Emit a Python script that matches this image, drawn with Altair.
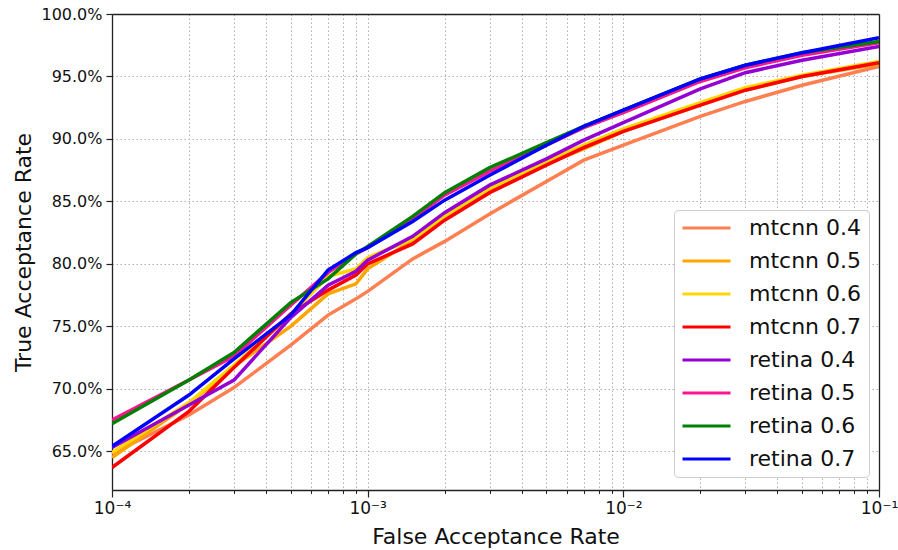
import altair as alt
import pandas as pd

far = [1e-4, 2e-4, 3e-4, 5e-4, 7e-4, 9e-4, 1e-3, 1.5e-3, 2e-3, 3e-3, 5e-3, 7e-3,
       1e-2, 2e-2, 3e-2, 5e-2, 1e-1]

series_names = ["mtcnn 0.4", "mtcnn 0.5", "mtcnn 0.6", "mtcnn 0.7",
                "retina 0.4", "retina 0.5", "retina 0.6", "retina 0.7"]
series_colors = ["#FF7F50", "#FFA500", "#FFD700", "#FF0000",
                 "#9400D3", "#FF1493", "#008000", "#0000FF"]

mtcnn_04 = [64.8, 67.9, 70.1, 73.5, 75.9, 77.2, 77.8, 80.4, 81.8, 84.0, 86.6, 88.3,
            89.5, 91.8, 93.0, 94.3, 95.8]
mtcnn_05 = [64.5, 68.8, 71.8, 75.0, 77.6, 78.4, 79.6, 81.9, 83.6, 85.9, 88.0, 89.2,
            90.6, 92.7, 93.9, 95.0, 96.0]
mtcnn_06 = [64.9, 68.9, 71.9, 75.9, 79.0, 79.6, 80.5, 82.0, 83.8, 86.0, 88.2, 89.5,
            90.8, 92.9, 94.1, 95.1, 96.2]
mtcnn_07 = [63.7, 68.2, 71.7, 76.0, 77.9, 79.1, 80.0, 81.6, 83.5, 85.7, 87.9, 89.3,
            90.6, 92.7, 93.9, 95.0, 96.1]
retina_04 = [65.3, 68.7, 70.7, 75.7, 78.3, 79.4, 80.3, 82.2, 84.1, 86.3, 88.4, 89.9,
             91.3, 94.0, 95.3, 96.3, 97.4]
retina_05 = [67.5, 70.7, 72.6, 76.7, 79.3, 80.8, 81.3, 83.6, 85.5, 87.4, 89.5, 90.9,
             92.1, 94.6, 95.7, 96.7, 97.7]
retina_06 = [67.2, 70.7, 72.9, 76.9, 78.8, 80.8, 81.4, 83.8, 85.7, 87.7, 89.7, 91.0,
             92.3, 94.8, 95.9, 96.9, 97.8]
retina_07 = [65.4, 69.5, 72.4, 75.9, 79.5, 80.9, 81.3, 83.4, 85.1, 87.1, 89.5, 91.0,
             92.3, 94.8, 95.9, 96.9, 98.1]

all_series = [mtcnn_04, mtcnn_05, mtcnn_06, mtcnn_07,
              retina_04, retina_05, retina_06, retina_07]

major_x = [1e-4, 1e-3, 1e-2, 1e-1]
minor_x = [m * 10.0 ** e for e in (-4, -3, -2) for m in range(2, 10)]
y_ticks = [65, 70, 75, 80, 85, 90, 95, 100]

rows = []
for name, vals in zip(series_names, all_series):
    for i, (x, y) in enumerate(zip(far, vals)):
        rows.append({"series": name, "far": x, "tar": y, "order": i})
df = pd.DataFrame(rows)

FONT = "DejaVu Sans"
DARK = "#222222"
GRID = dict(grid=True, gridColor="#b0b0b0", gridDash=[1.5, 2.5], gridWidth=1)

xscale = alt.Scale(type="log", domain=[1e-4, 1e-1], nice=False)
yscale = alt.Scale(domain=[61.9, 100], nice=False, zero=False)

label_expr = ("round(log(datum.value)/LN10) == -4 ? '10⁻⁴' : "
              "round(log(datum.value)/LN10) == -3 ? '10⁻³' : "
              "round(log(datum.value)/LN10) == -2 ? '10⁻²' : '10⁻¹'")

minor_layer = alt.Chart(df).mark_line(strokeOpacity=0).encode(
    x=alt.X("far:Q", scale=xscale,
            axis=alt.Axis(values=minor_x, labels=False, title=None, domain=False,
                          tickSize=3.5, tickColor=DARK, tickWidth=1,
                          orient="bottom", **GRID)),
    y=alt.Y("tar:Q", scale=yscale, axis=None),
    detail="series:N",
)

lines = alt.Chart(df).mark_line(strokeWidth=3.5, clip=True).encode(
    x=alt.X("far:Q", scale=xscale,
            axis=alt.Axis(values=major_x, labelExpr=label_expr, title="False Acceptance Rate",
                          tickSize=7, tickColor=DARK, tickWidth=1.2,
                          domainColor=DARK, domainWidth=1.3,
                          labelFontSize=17, labelFont=FONT, labelColor="#111111",
                          labelPadding=3, titleFontSize=22, titleFont=FONT,
                          titleFontWeight="normal", titlePadding=10, titleColor="#111111",
                          orient="bottom", labelFlush=False, **GRID)),
    y=alt.Y("tar:Q", scale=yscale,
            axis=alt.Axis(values=y_ticks, labelExpr="format(datum.value, '.1f') + '%'",
                          title="True Acceptance Rate", orient="left",
                          tickSize=6, tickColor=DARK, tickWidth=1.2,
                          domainColor=DARK, domainWidth=1.3,
                          labelFontSize=16, labelFont=FONT, labelColor="#111111",
                          labelPadding=4, titleFontSize=22, titleFont=FONT,
                          titleFontWeight="normal", titlePadding=5, titleColor="#111111",
                          labelFlush=False, **GRID)),
    color=alt.Color("series:N",
                    scale=alt.Scale(domain=series_names, range=series_colors),
                    legend=alt.Legend(title=None, orient="none", legendX=562, legendY=196,
                                      symbolType="stroke", symbolSize=2304,
                                      symbolStrokeWidth=3, clipHeight=22, rowPadding=11,
                                      labelFontSize=22, labelFont=FONT, labelColor="#111111",
                                      labelOffset=17, padding=7,
                                      fillColor="white", strokeColor="#cccccc",
                                      cornerRadius=4)),
    order="order:Q",
)

frame_layer = alt.Chart(df).mark_line(strokeOpacity=0).encode(
    x=alt.X("far:Q", scale=xscale,
            axis=alt.Axis(orient="top", labels=False, ticks=False, grid=False, title=None,
                          domainColor=DARK, domainWidth=1.3, zindex=2)),
    y=alt.Y("tar:Q", scale=yscale,
            axis=alt.Axis(orient="right", labels=False, ticks=False, grid=False, title=None,
                          domainColor=DARK, domainWidth=1.3, zindex=2)),
    detail="series:N",
)

chart = alt.layer(minor_layer, lines, frame_layer).resolve_axis(
    x="independent", y="independent"
).properties(
    width=767, height=476,
    autosize=alt.AutoSizeParams(type="none"),
    padding={"left": 112, "top": 14, "right": 19, "bottom": 60},
).configure_view(stroke=None).configure(background="white")

chart.save("out.html", embed_options={"renderer": "svg", "actions": False})
